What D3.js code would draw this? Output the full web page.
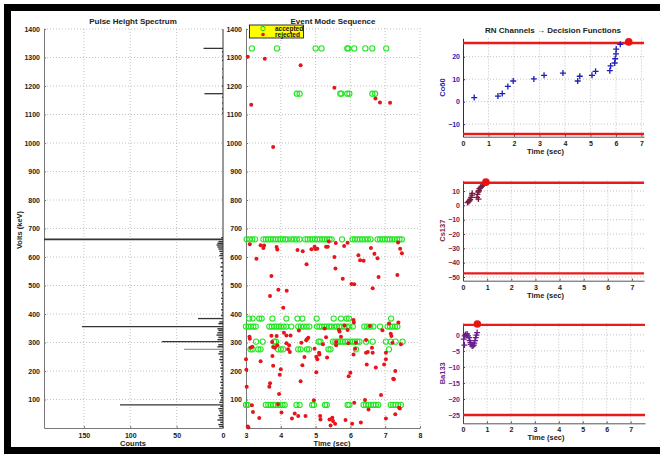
<!DOCTYPE html>
<html>
<head>
<meta charset="UTF-8">
<script src="https://cdn.jsdelivr.net/npm/d3@7/dist/d3.min.js"></script>
<style>
body{
    margin:0;
    background:#fff;
}
svg text{
    font-family: "Liberation Sans", Arial, Helvetica, sans-serif;
    font-weight: bold;
}
</style>
</head>
<body>
<script>
// ---- pulse height spectrum (energy keV -> counts)
var peakEnergy = [81, 276, 303, 356, 384, 662, 1173, 1332]
var peakCounts = [111, 42, 66, 152, 27, 260, 20, 21]
var noiseEnergy = [5,12,20,28,36,44,52,60,68,76, 90,98,106,114,122,130,140,150,160,170,
    180,190,200,210,220,230,240,250,260,268, 285,292,310,318,326,334,342,348,366,372,
    395,405,415,425,435,445,455,465,475,490, 505,520,535,550,565,580,595,605,612,620,
    628,635,642,648,654,668,1105,1120,1140,1160, 1200,1230,1260,1290,1305,1320]
var noiseCounts = [4,5,3,6,4,5,3,4,5,3, 4,3,2,3,4,2,3,2,3,2,
    3,2,2,3,2,3,4,3,5,4, 6,5,6,5,7,6,5,6,5,4,
    2,1,2,1,2,1,2,1,2,1, 2,1,2,2,3,2,3,4,3,4,
    5,6,7,6,5,2,1,1,1,1, 1,1,1,1,1,1]
var spectrumYTicks = [100,200,300,400,500,600,700,800,900,1000,1100,1200,1300,1400]
var countTicks = [150, 100, 50, 0]

// ---- event mode sequence: accepted events per line (times, sec)
var acceptedLines = [1332, 1173, 662, 384, 356, 303, 276, 81]
var acc1332 = [3.17,3.89,5.0,5.17,5.91,5.94,6.11,6.43,6.63,7.03]
var acc1173 = [4.46,4.54,5.71,5.74,5.91,5.97,6.63,6.71]
var acc662 = [3.02,3.1,3.18,3.26, 3.5,3.57,3.64,3.71,3.78,3.85,3.92,3.99,4.06,4.13,4.2,
    4.3,4.38,4.46,4.54, 4.7,4.77,4.84,4.91,4.98,5.05,5.12,5.19,5.26,5.33,5.4,5.46, 5.76,
    6.06,6.13,6.2,6.27,6.34,6.42,6.5,6.58, 6.78,6.85,6.92,6.99,7.06,7.13,7.2,7.27,7.34,7.41,7.48]
var acc384 = [3.09,3.19,3.38,3.45,3.76,4.16,4.48,4.62,5.03,5.52,5.73,5.89,5.96,7.17]
var acc356 = [3.0,3.07,3.14,3.21,3.28, 3.67,3.74,3.81,3.88,3.94,4.0,4.08,4.16, 4.3,
    4.5,4.58,4.66,4.74,4.82, 5.04,5.11,5.18,5.25,5.32,5.39,5.45, 5.54,5.61,5.68,5.75,5.82,5.9,5.97,
    6.07, 6.4,6.48,6.57,6.66, 6.85, 7.07,7.14,7.21,7.28,7.35]
var acc303 = [3.29,3.48,3.81,3.86,5.09,5.14,5.5,5.57,5.64,5.71,5.78,5.85,5.92,5.99,6.06,6.13,6.2,6.26,
    6.45,6.64,7.02,7.16,7.3,7.5]
var acc276 = [3.13,3.19,3.35,3.42,3.92,4.0,4.07,4.5,4.57,4.75,4.81,5.37,5.43,6.16,7.11]
var acc81 = [3.0,3.05, 3.57,3.64,3.71,3.78,3.85,3.92,3.99,4.05,4.11, 4.45,4.54,4.9,4.95,5.27,5.32,5.92,5.97,
    6.38,6.45,6.52,6.59,6.66,6.73,6.8, 7.16,7.23,7.3,7.37,7.45]
var acceptedTimes = [acc1332, acc1173, acc662, acc384, acc356, acc303, acc276, acc81]

// rejected events [time, keV]
var rejected = [
    [3.05,1303],[3.15,1134],[3.54,1296],[3.78,986],[4.57,1273],[5.54,1194],[6.72,1156],[6.85,1142],[7.14,1141],
    [3.11,645],[3.30,594],[3.42,641],[3.50,632],[3.52,640],[3.88,635],[3.90,626],[3.73,533],[3.69,463],[3.93,485],
    [4.17,482],[4.48,625],[4.63,620],[4.74,575],[4.88,627],[4.97,636],[4.99,628],[5.05,629],[5.30,636],[5.35,636],
    [5.38,654],[5.58,649],[5.54,600],[5.57,560],[5.78,524],[5.82,639],[5.92,650],[6.03,505],[6.11,504],[6.23,606],
    [6.28,589],[6.38,587],[6.59,632],[6.64,490],[6.69,611],[6.78,596],[6.81,530],[7.37,651],[7.43,629],[7.48,613],[7.35,537],
    [3.10,320],[3.11,313],[3.13,282],[3.18,285],[3.00,241],[3.01,204],[3.02,145],[3.05,5],[3.07,2],[3.17,80],
    [3.20,56],[3.38,35],[3.42,234],[3.76,253],[3.73,324],[3.75,302],[3.78,284],[3.83,282],[3.78,218],[3.69,157],
    [3.67,145],[3.88,323],[3.90,290],[3.92,83],[3.95,119],[3.97,187],[4.02,54],[4.00,206],[4.07,422],[4.09,334],
    [4.16,297],[4.21,276],[4.16,325],[4.24,290],[4.28,325],[4.26,267],[4.32,33],[4.40,51],[4.50,42],[4.52,342],
    [4.59,299],[4.62,220],[4.68,249],[4.73,308],[4.75,311],[4.79,317],[4.71,42],[4.57,164],[4.95,97],[4.97,278],
    [5.02,196],[5.02,250],[5.05,241],[5.10,264],[5.11,258],[5.13,42],[5.14,30],[5.21,294],[5.26,349],[5.30,318],
    [5.33,247],[5.40,30],[5.43,9],[5.48,36],[5.50,25],[5.56,15],[5.59,302],[5.59,290],[5.67,344],[5.73,320],
    [5.69,339],[5.83,360],[5.86,28],[5.92,344],[5.94,297],[5.95,182],[6.00,194],[6.05,15],[6.09,379],[6.10,370],
    [6.16,299],[6.14,278],[6.09,258],[6.11,89],[6.30,19],[6.42,98],[6.45,309],[6.50,267],[6.45,264],[6.47,223],
    [6.52,65],[6.56,358],[6.62,282],[6.64,264],[6.73,212],[6.88,116],[6.92,343],[6.97,223],[7.02,264],[7.02,241],
    [7.02,33],[7.11,367],[7.16,331],[7.18,323],[7.21,299],[7.29,200],[7.23,173],[7.25,171],[7.29,48],[7.40,71],
    [7.42,68],[7.45,294],[7.38,370]
]
var timeTicks = [3, 4, 5, 6, 7, 8]

// ---- decision functions [time, value]
var co60 = [[0.44,1.8],[1.37,2.5],[1.54,3.6],[1.76,6.8],[1.97,9.2],[2.78,10.1],[3.18,11.7],[3.92,12.7],
    [4.50,9.2],[4.58,11.3],[5.06,11.7],[5.20,13.5],[5.76,13.8],[5.79,15.9],[5.95,17.2],[5.97,19.1],
    [6.0,21.3],[6.01,23.4],[6.17,25.5]]
var cs137 = [[0.19,1.9],[0.23,2.6],[0.27,3.3],[0.30,4.2],[0.34,5.6],[0.37,7.2],[0.38,8.4],[0.58,5.6],
    [0.60,7.7],[0.63,9.3],[0.66,10.2],[0.68,11.6],[0.73,12.6],[0.78,13.3],[0.82,14.0],[0.64,4.4]]
var ba133 = [[0.03,-1.35],[0.07,-0.3],[0.11,0.1],[0.17,0.3],[0.21,-0.3],[0.25,-0.9],[0.28,-1.8],[0.31,-2.4],
    [0.33,-3.0],[0.38,-3.5],[0.42,-3.4],[0.45,-3.2],[0.47,-2.6],[0.50,-1.8],[0.53,-0.9],[0.56,-0.1],
    [0.59,0.7],[0.06,-3.2]]
var co60Alarm = [6.5, 26.6]
var cs137Alarm = [0.95, 16.2]
var ba133Alarm = [0.6, 3.4]
var co60Thresholds = [26.1, -14.4]
var cs137Thresholds = [15.8, -47.5]
var ba133Thresholds = [3.1, -25]
var co60Ticks = [-10, 0, 10, 20]
var cs137Ticks = [-50, -40, -30, -20, -10, 0, 10]
var ba133Ticks = [-25, -20, -15, -10, -5, 0]
var channelTimeTicks = [0, 1, 2, 3, 4, 5, 6, 7]

var width = 660
var height = 456
var svg = d3.select('body')
    .append('svg')
    .attr('width', width)
    .attr('height', height)

// black frame
svg.append('rect').attr('x', 4).attr('y', 4).attr('width', 656).attr('height', 7).attr('fill', '#000')
svg.append('rect').attr('x', 4).attr('y', 4).attr('width', 7).attr('height', 450).attr('fill', '#000')
svg.append('rect').attr('x', 4).attr('y', 447).attr('width', 656).attr('height', 7).attr('fill', '#000')

var gridColor = '#b4b4b4'
var fmt = d3.format('d')

function gridV(xs, scale, y0, y1) {
    svg.append('g').selectAll('line').data(xs).enter().append('line')
        .attr('x1', d => scale(d)).attr('x2', d => scale(d))
        .attr('y1', y0).attr('y2', y1)
        .attr('stroke', gridColor).attr('stroke-width', 0.8)
        .attr('stroke-dasharray', '1,2')
}
function gridH(ys, scale, x0, x1) {
    svg.append('g').selectAll('line').data(ys).enter().append('line')
        .attr('y1', d => scale(d)).attr('y2', d => scale(d))
        .attr('x1', x0).attr('x2', x1)
        .attr('stroke', gridColor).attr('stroke-width', 0.8)
        .attr('stroke-dasharray', '1,2')
}
function styleAxis(g, color, textColor) {
    g.select('.domain').attr('stroke', color).attr('stroke-width', 1)
    g.selectAll('text').attr('fill', textColor || color).attr('font-size', 7)
    g.selectAll('.tick line').attr('stroke', color)
}

// ================= Pulse Height Spectrum =================
var yE = d3.scaleLinear().domain([0, 1400]).range([428, 29])
var xC = d3.scaleLinear().domain([193, 0]).range([44, 223]).clamp(true)

gridH(spectrumYTicks, yE, 44, 223)
gridV([50, 100, 150], xC, 29, 428)

var ax1 = svg.append('g').attr('transform', 'translate(44,0)')
    .call(d3.axisLeft(yE).tickValues(spectrumYTicks).tickFormat(fmt)
        .tickSizeInner(-2).tickSizeOuter(0).tickPadding(4))
styleAxis(ax1, '#777', '#222')
var ax1b = svg.append('g').attr('transform', 'translate(0,428)')
    .call(d3.axisBottom(xC).tickValues(countTicks).tickFormat(fmt)
        .tickSizeInner(-2).tickSizeOuter(0).tickPadding(5))
styleAxis(ax1b, '#777', '#222')
svg.append('line').attr('x1', 223).attr('x2', 223).attr('y1', 29).attr('y2', 428)
    .attr('stroke', '#555').attr('stroke-width', 1.2)

// small background counts
svg.append('g').selectAll('line').data(noiseEnergy).enter().append('line')
    .attr('x1', xC(0)).attr('x2', (d, i) => xC(noiseCounts[i]))
    .attr('y1', d => yE(d)).attr('y2', d => yE(d))
    .attr('stroke', '#333').attr('stroke-width', 1.4)
// peaks
svg.append('g').selectAll('line').data(peakEnergy).enter().append('line')
    .attr('x1', xC(0)).attr('x2', (d, i) => xC(peakCounts[i]))
    .attr('y1', d => yE(d)).attr('y2', d => yE(d))
    .attr('stroke', d => d == 276 ? '#999' : '#333')
    .attr('stroke-width', d => d == 662 ? 1.8 : 1.3)

svg.append('text').attr('x', 133).attr('y', 24).attr('text-anchor', 'middle')
    .attr('font-size', 8).attr('fill', '#222').text('Pulse Height Spectrum')
svg.append('text').attr('x', 133).attr('y', 446).attr('text-anchor', 'middle')
    .attr('font-size', 7.5).attr('fill', '#222').text('Counts')
svg.append('text').attr('transform', 'translate(22,230) rotate(-90)').attr('text-anchor', 'middle')
    .attr('font-size', 7.5).attr('fill', '#222').text('Volts (keV)')

// ================= Event Mode Sequence =================
var xT = d3.scaleLinear().domain([3, 8]).range([246, 420])

gridH(spectrumYTicks, yE, 246, 420)
gridV([4, 5, 6, 7, 8], xT, 28, 428)

var ax2 = svg.append('g').attr('transform', 'translate(246,0)')
    .call(d3.axisLeft(yE).tickValues(spectrumYTicks).tickFormat(fmt)
        .tickSizeInner(-2).tickSizeOuter(0).tickPadding(4))
styleAxis(ax2, '#777', '#222')
var ax2b = svg.append('g').attr('transform', 'translate(0,428)')
    .call(d3.axisBottom(xT).tickValues(timeTicks).tickFormat(fmt)
        .tickSizeInner(-2).tickSizeOuter(0).tickPadding(5))
styleAxis(ax2b, '#777', '#222')

var accPts = []
acceptedLines.forEach(function (e, k) {
    acceptedTimes[k].forEach(function (t) { accPts.push([t, e]) })
})
svg.append('g').selectAll('circle').data(accPts).enter().append('circle')
    .attr('cx', d => xT(d[0])).attr('cy', d => yE(d[1])).attr('r', 2.6)
    .attr('fill', 'none').attr('stroke', '#22e622').attr('stroke-width', 1.1)
svg.append('g').selectAll('circle').data(rejected).enter().append('circle')
    .attr('cx', d => xT(d[0])).attr('cy', d => yE(d[1])).attr('r', 2)
    .attr('fill', '#e8141c')

// legend
var leg = svg.append('g')
leg.append('rect').attr('x', 249.5).attr('y', 25).attr('width', 54).attr('height', 13)
    .attr('fill', '#ffff00').attr('stroke', '#000').attr('stroke-width', 0.8)
leg.append('circle').attr('cx', 263).attr('cy', 28.5).attr('r', 2.2)
    .attr('fill', 'none').attr('stroke', '#22cc22').attr('stroke-width', 1)
leg.append('circle').attr('cx', 263).attr('cy', 34.5).attr('r', 1.8).attr('fill', '#e8141c')
leg.append('text').attr('x', 275).attr('y', 31).attr('font-size', 6.5).attr('fill', '#111').text('accepted')
leg.append('text').attr('x', 275).attr('y', 37).attr('font-size', 6.5).attr('fill', '#111').text('rejected')

svg.append('text').attr('x', 333).attr('y', 24).attr('text-anchor', 'middle')
    .attr('font-size', 8).attr('fill', '#222').text('Event Mode Sequence')
svg.append('text').attr('x', 332).attr('y', 446).attr('text-anchor', 'middle')
    .attr('font-size', 7.5).attr('fill', '#222').text('Time (sec)')

// ================= Decision functions =================
svg.append('text').attr('x', 553).attr('y', 33).attr('text-anchor', 'middle')
    .attr('font-size', 8).attr('fill', '#222').text('RN Channels \u2192 Decision Functions')

function drawChannel(name, color, pts, alarm, thr, ticks, xMax, yDom, top, bottom, right) {
    var x = d3.scaleLinear().domain([0, xMax]).range([463, right])
    var y = d3.scaleLinear().domain(yDom).range([bottom, top])

    gridH(ticks, y, 463, right)
    gridV(channelTimeTicks.slice(1), x, top, bottom)

    var gx = svg.append('g').attr('transform', 'translate(0,' + bottom + ')')
        .call(d3.axisBottom(x).tickValues(channelTimeTicks).tickFormat(fmt)
            .tickSizeInner(-2).tickSizeOuter(0).tickPadding(4))
    styleAxis(gx, '#555', '#222')
    var gy = svg.append('g').attr('transform', 'translate(463,0)')
        .call(d3.axisLeft(y).tickValues(ticks).tickFormat(fmt)
            .tickSizeInner(-2).tickSizeOuter(0).tickPadding(3))
    styleAxis(gy, color)

    svg.append('g').selectAll('line').data(thr).enter().append('line')
        .attr('x1', 463).attr('x2', right)
        .attr('y1', d => y(d)).attr('y2', d => y(d))
        .attr('stroke', '#e81a1a').attr('stroke-width', 2.4)

    svg.append('g').selectAll('path').data(pts).enter().append('path')
        .attr('transform', d => 'translate(' + x(d[0]) + ',' + y(d[1]) + ')')
        .attr('d', 'M-3,0H3M0,-3V3')
        .attr('stroke', color).attr('stroke-width', 1.3).attr('fill', 'none')

    svg.append('circle').attr('cx', x(alarm[0])).attr('cy', y(alarm[1])).attr('r', 3.8)
        .attr('fill', '#ee1111')

    svg.append('text').attr('transform', 'translate(445,' + ((top + bottom) / 2) + ') rotate(-90)')
        .attr('text-anchor', 'middle').attr('font-size', 7.5).attr('fill', color).text(name)
    svg.append('text').attr('x', (463 + right) / 2 - 8).attr('y', bottom + 17).attr('text-anchor', 'middle')
        .attr('font-size', 7.5).attr('fill', '#222').text('Time (sec)')
}

drawChannel('Co60', '#1f1fb4', co60, co60Alarm, co60Thresholds, co60Ticks, 7.1, [-15.6, 28.2], 38.3, 136.7, 644)
drawChannel('Cs137', '#7a1e44', cs137, cs137Alarm, cs137Thresholds, cs137Ticks, 7.5, [-52.6, 17.2], 180.7, 280.7, 644)
drawChannel('Ba133', '#6a1f8c', ba133, ba133Alarm, ba133Thresholds, ba133Ticks, 7.6, [-27.6, 3.6], 323.3, 423.3, 645)
</script>
</body>
</html>
